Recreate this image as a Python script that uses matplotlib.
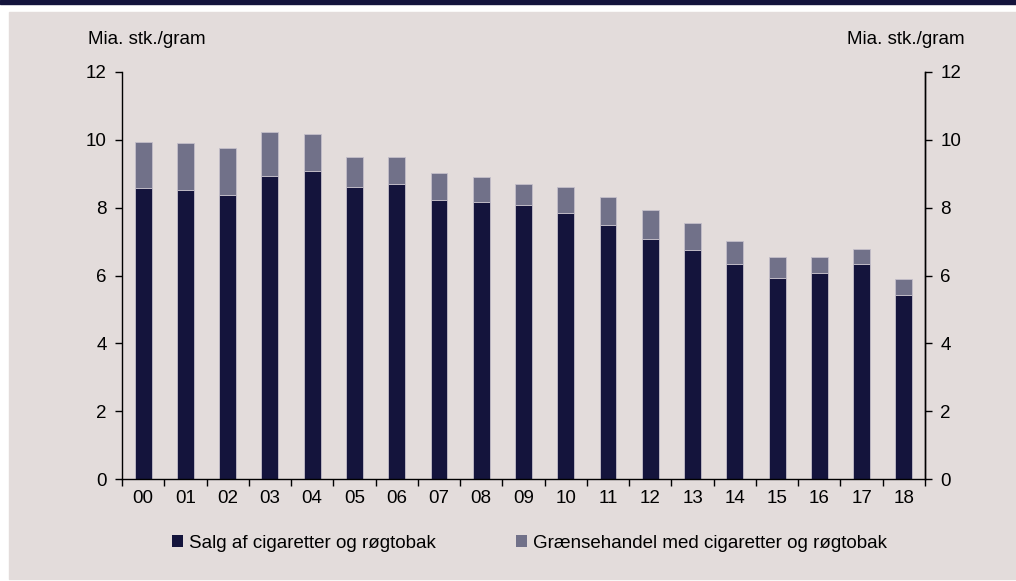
import numpy as np
import matplotlib
matplotlib.use('Agg')
import matplotlib.pyplot as plt
from matplotlib.patches import Rectangle

plt.rcParams['font.family'] = ['Liberation Sans', 'DejaVu Sans']

years = ['00', '01', '02', '03', '04', '05', '06', '07', '08', '09',
         '10', '11', '12', '13', '14', '15', '16', '17', '18']
# Salg af cigaretter og røgtobak (dark part)
salg = [8.58, 8.53, 8.38, 8.94, 9.09, 8.62, 8.70, 8.23, 8.18, 8.07,
        7.85, 7.50, 7.09, 6.74, 6.35, 5.94, 6.06, 6.35, 5.43]
# total height of bar (salg + grænsehandel)
total = [9.93, 9.90, 9.75, 10.22, 10.16, 9.50, 9.50, 9.03, 8.89, 8.70,
         8.62, 8.30, 7.92, 7.55, 7.02, 6.55, 6.55, 6.79, 5.90]
graense = [t - s for t, s in zip(total, salg)]

dark = '#14143c'
grey = '#717189'
bg = '#e3dcdb'
fs = 13.5

W, H = 1016, 581
fig = plt.figure(figsize=(W / 100, H / 100), dpi=100, facecolor='white')

# background panel and top band
fig.patches.append(Rectangle((9 / W, 2 / H), 1 - 9 / W, 1 - 14 / H,
                             transform=fig.transFigure, color=bg, zorder=-10))
fig.patches.append(Rectangle((0, 1 - 4 / H), 1, 4 / H,
                             transform=fig.transFigure, color=dark, zorder=-10))

ax = fig.add_axes([122 / W, 1 - 479 / H, (925 - 122) / W, (479 - 72) / H])
ax.set_facecolor('none')

x = np.arange(len(years))
ax.bar(x, salg, width=0.4, color=dark, edgecolor='#c4bfca', linewidth=0.6,
       label='Salg af cigaretter og røgtobak')
ax.bar(x, graense, bottom=salg, width=0.4, color=grey, edgecolor='#c4bfca',
       linewidth=0.6, label='Grænsehandel med cigaretter og røgtobak')

ax.set_xlim(-0.5, len(years) - 0.5)
ax.set_ylim(0, 12)
ax.set_yticks(range(0, 13, 2))
ax.set_xticks(x)
ax.set_xticklabels(years, fontsize=fs)
ax.set_xticks(np.arange(-0.5, len(years)), minor=True)
ax.tick_params(axis='x', which='major', length=0, pad=8)
ax.tick_params(axis='x', which='minor', length=5, width=1, direction='out')
ax.tick_params(axis='y', length=5, width=1, direction='out', labelsize=fs, pad=6)
ax.spines['top'].set_visible(False)
for s in ['left', 'right', 'bottom']:
    ax.spines[s].set_linewidth(1)

ax2 = ax.twinx()
ax2.set_ylim(0, 12)
ax2.set_yticks(range(0, 13, 2))
ax2.tick_params(axis='y', length=5, width=1, direction='out', labelsize=fs, pad=6)
for s in ['top', 'left', 'bottom']:
    ax2.spines[s].set_visible(False)
ax2.spines['right'].set_linewidth(1)

fig.text(88 / W, 1 - 40 / H, 'Mia. stk./gram', fontsize=fs, va='center', ha='left')
fig.text(965 / W, 1 - 40 / H, 'Mia. stk./gram', fontsize=fs, va='center', ha='right')

leg = fig.legend(loc='center', bbox_to_anchor=(0.521, 1 - 543 / H), ncol=2,
                 frameon=False, fontsize=fs, handlelength=0.6, handleheight=0.6,
                 handletextpad=0.3, columnspacing=4.3)
for p in leg.get_patches():
    p.set_edgecolor('none')

fig.savefig('out.png', dpi=100, facecolor='white')
